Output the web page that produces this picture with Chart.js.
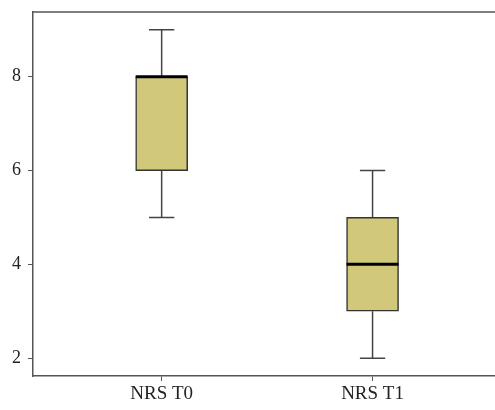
<!DOCTYPE html>
<html>
<head>
<meta charset="utf-8">
<script src="https://cdn.jsdelivr.net/npm/chart.js@4.4.1/dist/chart.umd.min.js"></script>
<style>
  html, body { margin: 0; padding: 0; background: #fff; overflow: hidden; }
  #wrap { width: 505px; height: 410px; }
</style>
</head>
<body>
<div id="wrap"><canvas id="grafica"></canvas></div>
<script>
const categorias = ["NRS T0", "NRS T1"];
const posiciones = [1, 2];
const minimos = [5, 2];
const q1 = [6, 3];
const medianas = [8, 4];
const q3 = [8, 5];
const maximos = [9, 6];
const ticksY = [2, 4, 6, 8];

const cajas = posiciones.map((p, i) => ({ x: p, y: [q1[i], q3[i]] }));

const bigotes = {
  id: 'bigotes',
  beforeDatasetsDraw(chart) {
    const ctx = chart.ctx;
    const sx = chart.scales.x, sy = chart.scales.y;
    ctx.save();
    ctx.strokeStyle = '#444';
    ctx.lineWidth = 1.5;
    posiciones.forEach((p, i) => {
      const cx = sx.getPixelForValue(p);
      const half = (sx.getPixelForValue(p + 0.06) - cx);
      ctx.beginPath();
      ctx.moveTo(cx, sy.getPixelForValue(q3[i]));
      ctx.lineTo(cx, sy.getPixelForValue(maximos[i]));
      ctx.moveTo(cx, sy.getPixelForValue(q1[i]));
      ctx.lineTo(cx, sy.getPixelForValue(minimos[i]));
      ctx.moveTo(cx - half, sy.getPixelForValue(maximos[i]));
      ctx.lineTo(cx + half, sy.getPixelForValue(maximos[i]));
      ctx.moveTo(cx - half, sy.getPixelForValue(minimos[i]));
      ctx.lineTo(cx + half, sy.getPixelForValue(minimos[i]));
      ctx.stroke();
    });
    ctx.restore();
  },
  afterDatasetsDraw(chart) {
    const ctx = chart.ctx;
    const sx = chart.scales.x, sy = chart.scales.y;
    const meta = chart.getDatasetMeta(0);
    ctx.save();
    ctx.strokeStyle = '#000';
    ctx.lineWidth = 3;
    posiciones.forEach((p, i) => {
      const bar = meta.data[i];
      const w = bar.width / 2;
      const cx = sx.getPixelForValue(p);
      const y = sy.getPixelForValue(medianas[i]);
      ctx.beginPath();
      ctx.moveTo(cx - w, y);
      ctx.lineTo(cx + w, y);
      ctx.stroke();
    });
    // linea superior del marco
    ctx.strokeStyle = '#555';
    ctx.lineWidth = 1.5;
    ctx.beginPath();
    ctx.moveTo(chart.chartArea.left, chart.chartArea.top);
    ctx.lineTo(chart.width, chart.chartArea.top);
    ctx.stroke();
    ctx.restore();
  }
};

new Chart(document.getElementById('grafica'), {
  type: 'bar',
  data: {
    datasets: [{
      data: cajas,
      backgroundColor: '#d2c879',
      borderColor: '#333',
      borderWidth: 1.5,
      borderSkipped: false,
      barThickness: 52
    }]
  },
  options: {
    responsive: true,
    maintainAspectRatio: false,
    animation: false,
    layout: { padding: { top: 12, right: 0, left: 0, bottom: 0 } },
    plugins: { legend: { display: false }, tooltip: { enabled: false } },
    scales: {
      x: {
        type: 'linear',
        offset: false,
        min: 0.39,
        max: 2.628,
        afterBuildTicks: s => { s.ticks = posiciones.map(v => ({ value: v })); },
        afterFit: s => { s.height = 34; s.paddingLeft = 0; s.paddingRight = 0; },
        ticks: {
          callback: (v) => categorias[posiciones.indexOf(v)],
          color: '#222',
          font: { family: 'Liberation Serif', size: 19 },
          padding: 2,
          maxRotation: 0
        },
        grid: { offset: false, drawOnChartArea: false, drawTicks: true, tickLength: 5, color: '#555' },
        border: { color: '#555', width: 1.5 }
      },
      y: {
        min: 1.62,
        max: 9.38,
        afterBuildTicks: s => { s.ticks = ticksY.map(v => ({ value: v })); },
        afterFit: s => { s.width = 33; s.paddingTop = 0; s.paddingBottom = 0; },
        ticks: {
          color: '#222',
          font: { family: 'Liberation Serif', size: 18 },
          padding: 7
        },
        grid: { drawOnChartArea: false, drawTicks: true, tickLength: 5, color: '#555' },
        border: { color: '#555', width: 1.5 }
      }
    }
  },
  plugins: [bigotes]
});
</script>
</body>
</html>
